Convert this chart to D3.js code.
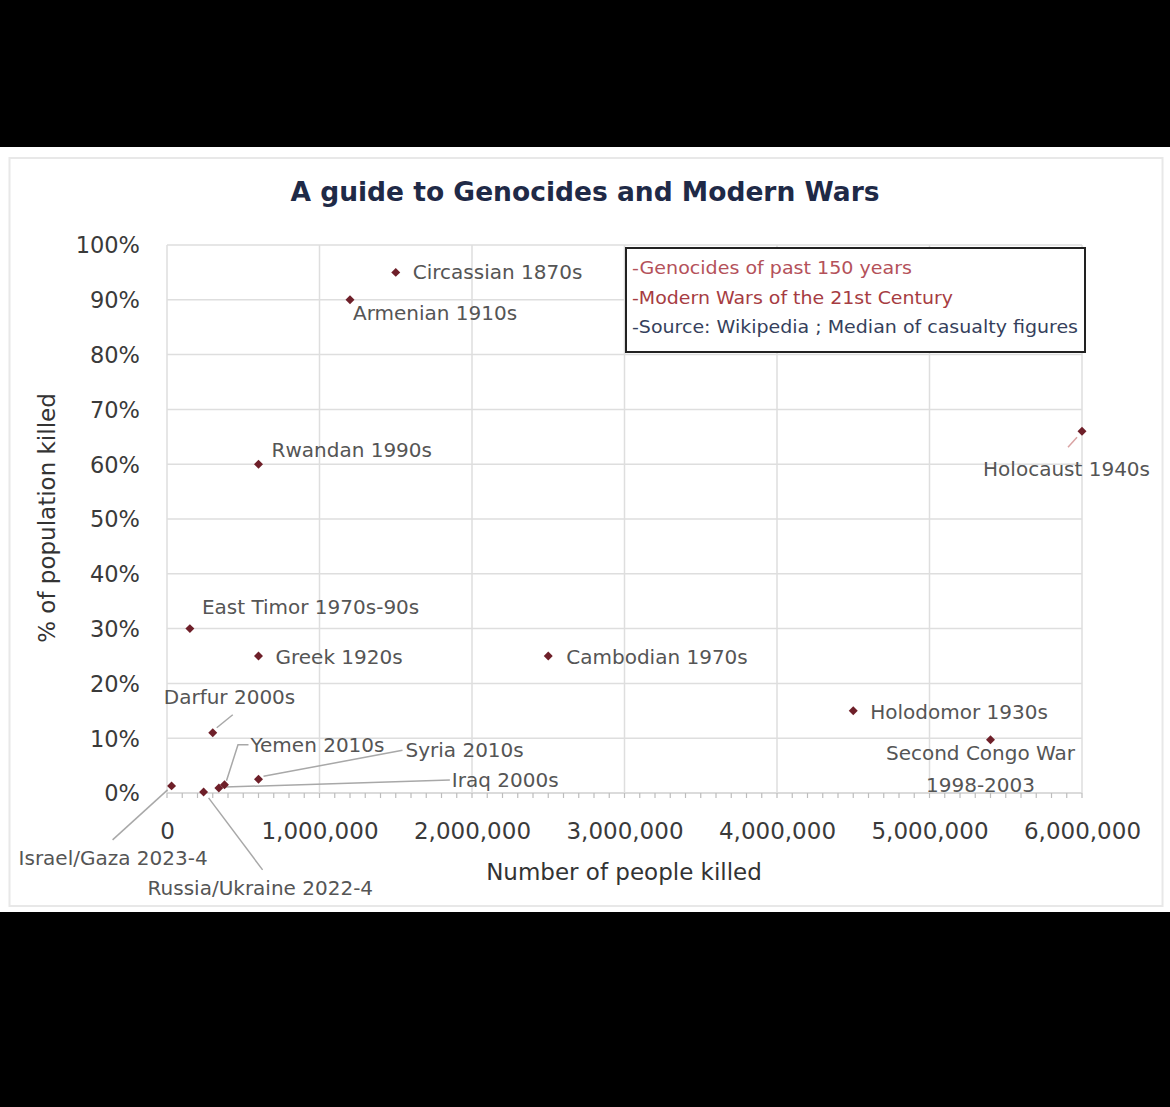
<!DOCTYPE html>
<html>
<head>
<meta charset="utf-8">
<script src="https://cdn.jsdelivr.net/npm/d3@7"></script>
<style>
  html, body { margin: 0; padding: 0; background: #000; }
  svg { display: block; }
  text { font-family: "DejaVu Sans", sans-serif; }
</style>
</head>
<body>
<svg id="chart" width="1170" height="1107"></svg>
<script>
// ---------------- data ----------------
const names = [
  "Circassian 1870s", "Armenian 1910s", "Rwandan 1990s", "Holocaust 1940s",
  "East Timor 1970s-90s", "Greek 1920s", "Cambodian 1970s", "Holodomor 1930s",
  "Second Congo War|1998-2003", "Darfur 2000s", "Yemen 2010s", "Iraq 2000s",
  "Syria 2010s", "Israel/Gaza 2023-4", "Russia/Ukraine 2022-4"
];
const killed = [1500000, 1200000, 600000, 6000000, 150000, 600000, 2500000, 4500000,
  5400000, 300000, 377000, 340000, 600000, 30000, 240000];
const percentKilled = [95, 90, 60, 66, 30, 25, 25, 15, 9.7, 11, 1.5, 0.9, 2.5, 1.3, 0.2];

const xTicks = [0, 1000000, 2000000, 3000000, 4000000, 5000000, 6000000];
const yTicks = [0, 10, 20, 30, 40, 50, 60, 70, 80, 90, 100];
const legendLines = ["-Genocides of past 150 years", "-Modern Wars of the 21st Century",
  "-Source: Wikipedia ; Median of casualty figures"];

// ---------------- layout (annotation offsets, px relative to point) ----------------
const labelLayout = [
  {dx: 17, dy: 0, anchor: "start"},
  {dx: 3, dy: 13, anchor: "start"},
  {dx: 13, dy: -14, anchor: "start"},
  {dx: 68, dy: 38, anchor: "end"},
  {dx: 12, dy: -22, anchor: "start"},
  {dx: 17, dy: 1, anchor: "start"},
  {dx: 18, dy: 1, anchor: "start"},
  {dx: 17, dy: 1, anchor: "start"},
  {dx: -10, dy: 13, anchor: "middle", lh: 32},
  {dx: -49, dy: -36, anchor: "start"},
  {dx: 26, dy: -40, anchor: "start"},
  {dx: 233, dy: -8, anchor: "start"},
  {dx: 147, dy: -29, anchor: "start"},
  {dx: -153, dy: 72, anchor: "start"},
  {dx: -56, dy: 96, anchor: "start"}
];
const leaders = [
  null, null, null,
  {pts: [[-5, 6], [-14, 16]], color: "#d9a3a3"},
  null, null, null, null, null,
  {pts: [[4, -5], [20, -18]], color: "#a8a8a8"},
  {pts: [[2, -4], [13.5, -40], [24, -40]], color: "#a8a8a8"},
  {pts: [[6, -1], [231, -8]], color: "#a8a8a8"},
  {pts: [[5, -3], [144, -29]], color: "#a8a8a8"},
  {pts: [[-4, 4], [-59, 54]], color: "#a8a8a8"},
  {pts: [[5, 6], [59, 78]], color: "#a8a8a8"}
];

// ---------------- drawing ----------------
const svg = d3.select("#chart");
svg.append("rect").attr("x", 0).attr("y", 0).attr("width", 1170).attr("height", 1107).attr("fill", "#000");
svg.append("rect").attr("x", 0).attr("y", 147).attr("width", 1170).attr("height", 765).attr("fill", "#fff");
svg.append("rect").attr("x", 9.5).attr("y", 158).attr("width", 1153).attr("height", 748)
  .attr("fill", "none").attr("stroke", "#e8e8e8").attr("stroke-width", 2);

const x = d3.scaleLinear().domain([0, 6000000]).range([167, 1082]);
const y = d3.scaleLinear().domain([0, 100]).range([793, 245]);

// gridlines
const grid = svg.append("g");
grid.selectAll("line.h").data(yTicks).enter().append("line")
  .attr("x1", x(0)).attr("x2", x(6000000))
  .attr("y1", d => y(d)).attr("y2", d => y(d))
  .attr("stroke", d => d === 0 ? "#cfcfcf" : "#dedede").attr("stroke-width", 1.5);
grid.selectAll("line.v").data(xTicks).enter().append("line")
  .attr("x1", d => x(d)).attr("x2", d => x(d))
  .attr("y1", y(0)).attr("y2", y(100))
  .attr("stroke", "#dedede").attr("stroke-width", 1.5);

// minor ticks on x axis
const minor = d3.range(0, 6000001, 100000);
grid.selectAll("line.m").data(minor).enter().append("line")
  .attr("x1", d => x(d)).attr("x2", d => x(d))
  .attr("y1", y(0)).attr("y2", y(0) + 5)
  .attr("stroke", "#bdbdbd").attr("stroke-width", 1.2);

// axes with d3 axis generators (labels only)
const xAxis = d3.axisBottom(x).tickValues(xTicks).tickSize(0).tickPadding(0)
  .tickFormat(d3.format(","));
const gx = svg.append("g").attr("transform", `translate(0,${y(0) + 38})`).call(xAxis);
gx.select(".domain").remove();
gx.selectAll("text").attr("font-size", 23).attr("fill", "#3a3a3a")
  .attr("font-family", "DejaVu Sans, sans-serif").attr("dy", "0.35em").attr("y", 0);

const yAxis = d3.axisLeft(y).tickValues(yTicks).tickSize(0).tickPadding(0)
  .tickFormat(d => d + "%");
const gy = svg.append("g").attr("transform", `translate(140,0)`).call(yAxis);
gy.select(".domain").remove();
gy.selectAll("text").attr("font-size", 22.5).attr("fill", "#3a3a3a")
  .attr("font-family", "DejaVu Sans, sans-serif").attr("dy", "0.35em").attr("x", 0);

// axis titles
svg.append("text").attr("x", 624).attr("y", 872).attr("dy", "0.35em")
  .attr("text-anchor", "middle").attr("font-size", 23).attr("fill", "#333")
  .text("Number of people killed");
svg.append("text").attr("transform", "translate(47,518) rotate(-90)").attr("dy", "0.35em")
  .attr("text-anchor", "middle").attr("font-size", 23).attr("fill", "#333")
  .text("% of population killed");

// title
svg.append("text").attr("x", 585).attr("y", 192).attr("dy", "0.35em")
  .attr("text-anchor", "middle").attr("font-size", 26.5).attr("font-weight", "bold")
  .attr("fill", "#1f2a47").text("A guide to Genocides and Modern Wars");

// legend box
svg.append("rect").attr("x", 626).attr("y", 248).attr("width", 459).attr("height", 104)
  .attr("fill", "#fff").attr("stroke", "#222").attr("stroke-width", 2);
const legendColors = ["#b4515a", "#a63c42", "#353f5c"];
svg.selectAll("text.leg").data(legendLines).enter().append("text")
  .attr("x", 632).attr("y", (d, i) => 268 + i * 29.5).attr("dy", "0.35em")
  .attr("font-size", 17.5).attr("fill", (d, i) => legendColors[i])
  .attr("textLength", (d, i) => [280, 321, 446][i]).attr("lengthAdjust", "spacingAndGlyphs")
  .text(d => d);

// leader lines
const pts = names.map((n, i) => ({name: n, px: x(killed[i]), py: y(percentKilled[i]), i}));
const lineGen = d3.line();
svg.selectAll("path.leader").data(pts.filter(p => leaders[p.i])).enter().append("path")
  .attr("d", p => lineGen(leaders[p.i].pts.map(q => [p.px + q[0], p.py + q[1]])))
  .attr("fill", "none").attr("stroke", p => leaders[p.i].color).attr("stroke-width", 1.5);

// labels
const lab = svg.selectAll("text.lab").data(pts).enter().append("text")
  .attr("font-size", 20).attr("fill", "#555")
  .attr("text-anchor", p => labelLayout[p.i].anchor)
  .attr("x", p => p.px + labelLayout[p.i].dx)
  .attr("y", p => p.py + labelLayout[p.i].dy);
lab.each(function(p) {
  const parts = p.name.split("|");
  const t = d3.select(this);
  parts.forEach((s, k) => {
    t.append("tspan").attr("x", p.px + labelLayout[p.i].dx)
      .attr("y", p.py + labelLayout[p.i].dy + k * (labelLayout[p.i].lh || 0))
      .attr("dy", "0.35em").text(s);
  });
});

// markers (square rotated 45deg = diamond)
svg.selectAll("path.pt").data(pts).enter().append("path")
  .attr("transform", p => `translate(${p.px},${p.py}) rotate(45)`)
  .attr("d", d3.symbol().type(d3.symbolSquare).size(40))
  .attr("fill", "#6e1f29");
</script>
</body>
</html>
